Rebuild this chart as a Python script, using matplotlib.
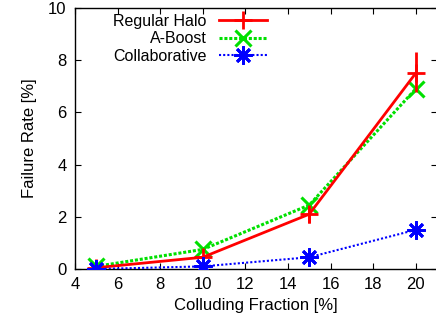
import matplotlib
matplotlib.use('Agg')
import matplotlib.pyplot as plt

plt.rcParams['font.family'] = ['Liberation Sans', 'DejaVu Sans']

# data
fraction = [5, 10, 15, 20]
regular_halo = [0.05, 0.45, 2.1, 7.5]
regular_err_low = [0.05, 0.05, 0.35, 0.7]
regular_err_high = [0.05, 0.05, 0.3, 0.8]
a_boost = [0.1, 0.75, 2.45, 6.9]
collaborative = [0.0, 0.1, 0.45, 1.5]

fig = plt.figure(figsize=(4.36, 3.21), dpi=100)
ax = fig.add_axes([75 / 436, 52 / 321, 362 / 436, 261 / 321])

ax.errorbar(fraction, regular_halo, yerr=[regular_err_low, regular_err_high],
            fmt='none', ecolor='#ff0000', elinewidth=2, capsize=0, zorder=3)
h1, = ax.plot(fraction, regular_halo, color='#ff0000', lw=2, marker='+',
              ms=13, mew=2, label='Regular Halo', zorder=3)
h2, = ax.plot(fraction, a_boost, color='#00e000', lw=2.2, ls=(0, (1, 0.6)),
              marker='x', ms=11, mew=2.2, label='A-Boost', zorder=2)
h3, = ax.plot(fraction, collaborative, color='#0000ff', lw=1.5, ls=(0, (1, 1)),
              marker=(8, 2, 0), ms=13, mew=2, label='Collaborative', zorder=4)

ax.set_xlim(4, 21)
ax.set_ylim(0, 10)
ax.set_xticks(range(4, 21, 2))
ax.set_yticks(range(0, 11, 2))
ax.tick_params(direction='in', top=True, right=True, labelsize=12, length=4,
               pad=6)
for s in ax.spines.values():
    s.set_linewidth(1)

ax.set_xlabel('Colluding Fraction [%]', fontsize=12, labelpad=4)
ax.set_ylabel('Failure Rate [%]', fontsize=12, labelpad=8)

ax.legend(handles=[h1, h2, h3], loc='upper right', bbox_to_anchor=(0.56, 1.02),
          markerfirst=False, frameon=False, fontsize=11.5, handlelength=3.0,
          handletextpad=0.75, labelspacing=0.15, borderpad=0.2)

fig.savefig('out.png', dpi=100)
